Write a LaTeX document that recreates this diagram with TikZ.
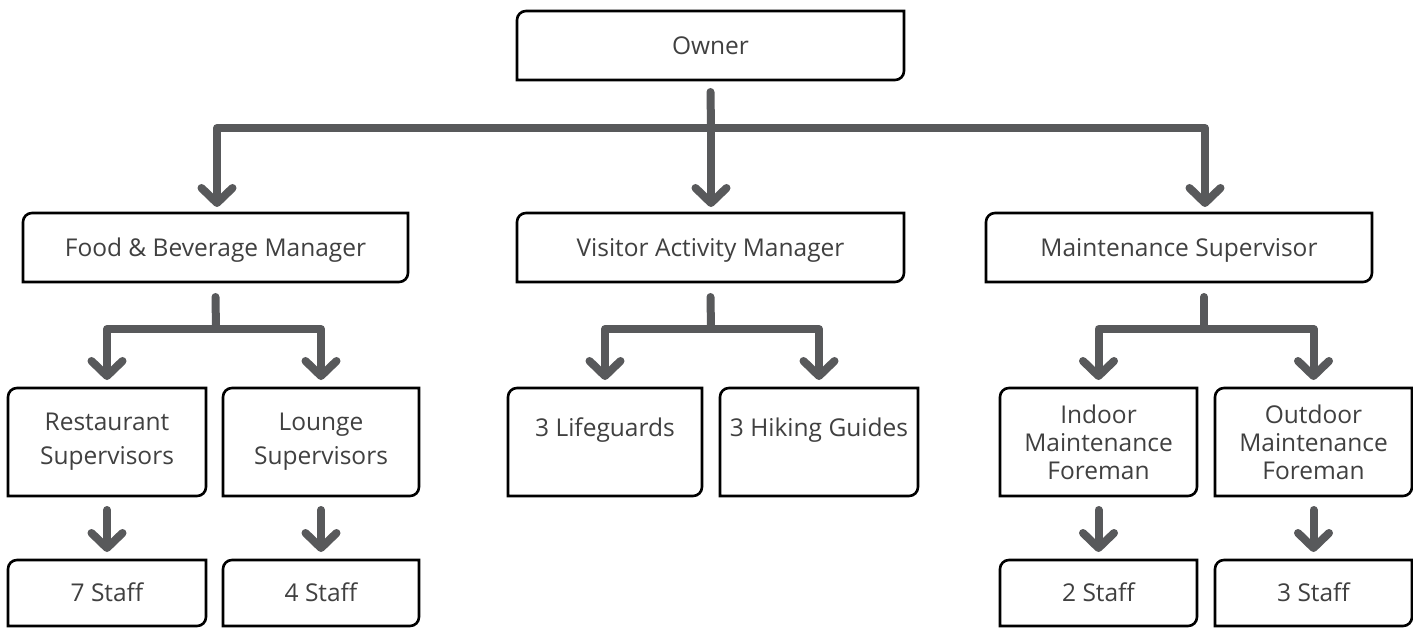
\documentclass[tikz,border=0pt]{standalone}
\usepackage{fontspec}
\setmainfont{Open Sans}
\usetikzlibrary{arrows.meta,calc}
\definecolor{conngray}{RGB}{88,89,91}
\definecolor{txtgray}{RGB}{64,64,64}
\newcommand\orgbox[1]{\draw[boxline] (#1.south west) -- ([yshift=-9pt]#1.north west) arc[start angle=180,end angle=90,radius=9pt] -- (#1.north east) -- ([yshift=9pt]#1.south east) arc[start angle=0,end angle=-90,radius=9pt] -- cycle;}
\tikzset{
  base/.style={inner sep=0pt,outer sep=0pt,text=txtgray,font=\fontsize{24.5}{34}\selectfont,align=center},
  onebox/.style={base,minimum height=69pt,text height=17.5pt,text depth=0pt},
  tallbox/.style={base,minimum height=108pt},
  staffbox/.style={base,minimum height=66pt,text height=17.5pt,text depth=0pt},
  boxline/.style={draw=black,line width=2.6pt},
  conn/.style={draw=conngray,line width=8pt,line cap=round,line join=round},
  arr/.style={conn,-{Straight Barb[length=15pt,width=31pt,line width=8pt,round]},shorten >=8pt},
}
\begin{document}
\begin{tikzpicture}[x=1pt,y=1pt]
\useasboundingbox (0,0) rectangle (1413,627);
\fill[white] (0,0) rectangle (1413,627);
% level 1
\node[onebox,minimum width=387pt] (owner) at (710.5,581.5) {Owner};
% level 2
\node[onebox,minimum width=385pt] (fb) at (215.5,379.5) {Food \& Beverage Manager};
\node[onebox,minimum width=387pt] (va) at (710.5,379.5) {Visitor Activity Manager};
\node[onebox,minimum width=386pt] (ms) at (1179,379.5) {Maintenance Supervisor};
% level 3
\node[tallbox,minimum width=198pt] (rs) at (107,185) {Restaurant\\Supervisors};
\node[tallbox,minimum width=196pt] (ls) at (321,185) {Lounge\\Supervisors};
\node[tallbox,minimum width=194pt] (lg) at (605,185) {\raisebox{6pt}[0pt][0pt]{3 Lifeguards}};
\node[tallbox,minimum width=198pt] (hg) at (819,185) {\raisebox{6pt}[0pt][0pt]{3 Hiking Guides}};
\node[tallbox,minimum width=197pt,font=\fontsize{24.5}{28}\selectfont] (im) at (1098.5,185) {Indoor\\Maintenance\\Foreman};
\node[tallbox,minimum width=197pt,font=\fontsize{24.5}{28}\selectfont] (om) at (1313.5,185) {Outdoor\\Maintenance\\Foreman};
% level 4
\node[staffbox,minimum width=198pt] (s7) at (107,34) {7 Staff};
\node[staffbox,minimum width=196pt] (s4) at (321,34) {4 Staff};
\node[staffbox,minimum width=197pt] (s2) at (1098.5,34) {2 Staff};
\node[staffbox,minimum width=197pt] (s3) at (1313.5,34) {3 Staff};
% outlines
\foreach \n in {owner,fb,va,ms,rs,ls,lg,hg,im,om,s7,s4,s2,s3}{\orgbox{\n}}
% junctions
\coordinate (j0) at (711,499);
\coordinate (jf) at (216,298);
\coordinate (jv) at (711,298);
\coordinate (jm) at (1204,298);
% owner -> level 2
\draw[conn] ([yshift=-12pt]owner.south) -- (j0);
\draw[arr,shorten >=6pt] (j0) -| ([xshift=1.5pt]fb.north);
\draw[arr,shorten >=6pt] (j0) -- (j0 |- va.north);
\draw[arr,shorten >=6pt] (j0) -| ([xshift=26pt]ms.north);
% F&B
\draw[conn] ([yshift=-15pt]fb.south) -- (jf);
\draw[arr] (jf) -| (rs.north);
\draw[arr] (jf) -| (ls.north);
% visitor
\draw[conn] ([yshift=-15pt]va.south) -- (jv);
\draw[arr] (jv) -| (lg.north);
\draw[arr] (jv) -| (hg.north);
% maintenance
\draw[conn] ([xshift=25pt,yshift=-15pt]ms.south) -- (jm);
\draw[arr] (jm) -| (im.north);
\draw[arr] (jm) -| (om.north);
% level 3 -> staff
\draw[arr] ([yshift=-14pt]rs.south) -- (s7.north);
\draw[arr] ([yshift=-14pt]ls.south) -- (s4.north);
\draw[arr] ([yshift=-14pt]im.south) -- (s2.north);
\draw[arr] ([yshift=-14pt]om.south) -- (s3.north);
\end{tikzpicture}
\end{document}
